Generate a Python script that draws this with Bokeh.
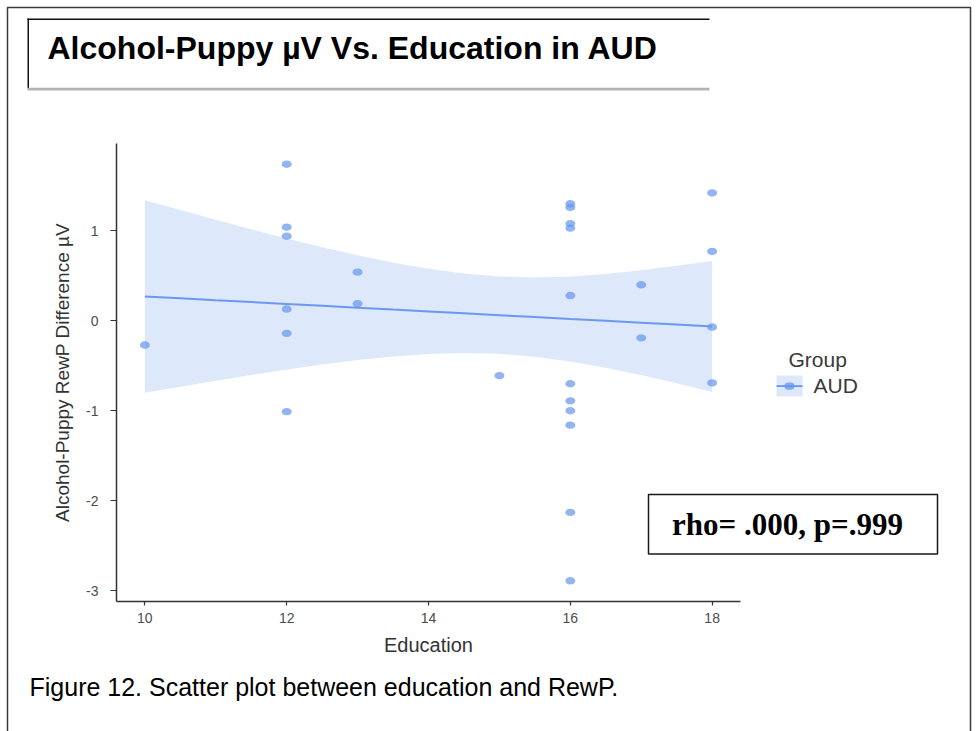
from bokeh.plotting import figure
from bokeh.models import Range1d, FixedTicker, Label, BoxAnnotation, ColumnDataSource
from bokeh.embed import file_html
from bokeh.resources import INLINE

# --- data -------------------------------------------------------------
education = [10,
             12, 12, 12, 12, 12, 12,
             13, 13,
             15,
             16, 16, 16, 16, 16, 16, 16, 16, 16, 16, 16,
             17, 17,
             18, 18, 18, 18]
rewp_diff = [-0.27,
             1.74, 1.04, 0.94, 0.13, -0.14, -1.01,
             0.54, 0.19,
             -0.61,
             1.30, 1.26, 1.08, 1.03, 0.28, -0.70, -0.89, -1.00, -1.16, -2.13, -2.89,
             0.40, -0.19,
             1.42, 0.77, -0.07, -0.69]

# linear fit with its 95% confidence band
fit_x = [10, 10.5, 11, 11.5, 12, 12.5, 13, 13.5, 14, 14.5, 15, 15.5, 16, 16.5, 17, 17.5, 18]
fit_y = [0.270, 0.249, 0.228, 0.208, 0.187, 0.166, 0.145, 0.124, 0.104, 0.083, 0.062,
         0.041, 0.020, 0.000, -0.021, -0.042, -0.063]
ci_hi = [1.340, 1.230, 1.122, 1.018, 0.915, 0.818, 0.727, 0.645, 0.577, 0.524, 0.492,
         0.482, 0.493, 0.521, 0.561, 0.610, 0.665]
ci_lo = [-0.800, -0.732, -0.666, -0.602, -0.541, -0.486, -0.437, -0.397, -0.369, -0.358,
         -0.368, -0.400, -0.453, -0.521, -0.603, -0.694, -0.791]

x_ticks = [10, 12, 14, 16, 18]
y_ticks = [-3, -2, -1, 0, 1]
y_tick_text = {-3: "-3", -2: "-2", -1: "-1", 0: "0", 1: "1"}
x_limits = (9.6, 18.4)
y_limits = (-3.12, 1.97)

title_text = "Alcohol-Puppy µV Vs. Education in AUD"
caption_text = "Figure 12. Scatter plot between education and RewP."
stats_text = "rho= .000, p=.999"
group_title = "Group"
group_name = "AUD"

# --- layout -----------------------------------------------------------
W, H = 980, 731
# pixel box of the scatter panel on the page (left, right, top, bottom)
PANEL = (116, 740, 143, 601)

BLUE = "#6495ED"
BAND_ALPHA = 0.22
SANS = "Liberation Sans"
SERIF = "Liberation Serif"

# the frame spans the whole page; the ranges are widened so that the
# axis limits land on the panel box, and the axes sit at fixed locations
kx = (x_limits[1] - x_limits[0]) / (PANEL[1] - PANEL[0])
ky = (y_limits[1] - y_limits[0]) / (PANEL[3] - PANEL[2])
x_range = Range1d(x_limits[0] - PANEL[0] * kx, x_limits[1] + (W - PANEL[1]) * kx)
y_range = Range1d(y_limits[0] - (H - PANEL[3]) * ky, y_limits[1] + PANEL[2] * ky)

p = figure(width=W, height=H, output_backend="svg", toolbar_location=None,
           x_range=x_range, y_range=y_range, min_border=0)
p.background_fill_color = "white"
p.border_fill_color = "white"
p.outline_line_color = None
p.xgrid.visible = False
p.ygrid.visible = False

pts = ColumnDataSource(dict(x=education, y=rewp_diff))
fit = ColumnDataSource(dict(x=fit_x, y=fit_y, lo=ci_lo, hi=ci_hi))

p.varea(x="x", y1="lo", y2="hi", source=fit, fill_color=BLUE, fill_alpha=BAND_ALPHA)
p.line(x="x", y="y", source=fit, line_color=BLUE, line_width=2, line_alpha=0.95)
p.ellipse(x="x", y="y", width=10, height=7.4, width_units="screen", height_units="screen",
          source=pts, fill_color=BLUE, fill_alpha=0.7, line_color=None)

for ax in (p.xaxis[0], p.yaxis[0]):
    ax.axis_line_color = "#333333"
    ax.axis_line_width = 1.5
    ax.major_tick_line_color = "#333333"
    ax.major_tick_line_width = 1.2
    ax.major_tick_in = 0
    ax.minor_tick_line_color = None
    ax.major_label_text_font = SANS
    ax.major_label_text_font_size = "14px"
    ax.major_label_text_color = "#4d4d4d"
    ax.axis_label_text_font = SANS
    ax.axis_label_text_font_style = "normal"
    ax.axis_label_text_color = "#333333"

p.xaxis.fixed_location = y_limits[0]
p.xaxis.bounds = x_limits
p.xaxis.ticker = FixedTicker(ticks=x_ticks)
p.xaxis.major_tick_out = 4
p.xaxis.major_label_standoff = 7
p.xaxis.axis_label = "Education"
p.xaxis.axis_label_text_font_size = "20px"
p.xaxis.axis_label_standoff = 8

p.yaxis.fixed_location = x_limits[0]
p.yaxis.bounds = y_limits
p.yaxis.ticker = FixedTicker(ticks=y_ticks)
p.yaxis.major_label_overrides = y_tick_text
p.yaxis.major_tick_out = 6
p.yaxis.major_label_standoff = 12
p.yaxis.axis_label = "Alcohol-Puppy RewP Difference µV"
p.yaxis.axis_label_text_font_size = "19px"
p.yaxis.axis_label_standoff = 10


# page furniture: frame, title box, caption, legend and statistics box
def box(l, r, t, b, **kw):
    return BoxAnnotation(left=l, right=r, top=t, bottom=b,
                         left_units="canvas", right_units="canvas",
                         top_units="canvas", bottom_units="canvas", **kw)


def bar(l, r, t, b, color):
    return box(l, r, t, b, fill_color=color, fill_alpha=1, line_color=None)


def text(x, y, s, font=SANS, size="19px", style="normal", color="black", align="left"):
    # y is the vertical middle of the text line
    return Label(x=x, y=y, x_units="canvas", y_units="canvas", text=s,
                 text_font=font, text_font_size=size, text_font_style=style,
                 text_color=color, text_baseline="middle", text_align=align)


p.add_layout(box(7, 970, 7, 745, fill_alpha=0,
                 line_color="#3a3a3a", line_alpha=1, line_width=1.5))

p.add_layout(bar(27, 709, 18, 19.4, "#111111"))
p.add_layout(bar(27, 28.5, 18, 88, "#111111"))
p.add_layout(bar(27, 709, 87.2, 90, "#b4b4b4"))
p.add_layout(text(47, 47, title_text, size="32px", style="bold"))

p.add_layout(text(29, 686, caption_text, size="25px"))

p.add_layout(box(648, 937, 494, 553.5, fill_color="white", fill_alpha=1,
                 line_color="#1a1a1a", line_alpha=1, line_width=1.5))
p.add_layout(text(787, 524, stats_text, font=SERIF, size="31px", style="bold",
                  align="center"))

p.add_layout(text(788, 359, group_title, size="21px", color="#3a3a3a"))
p.add_layout(box(776, 802, 375, 396, fill_color=BLUE, fill_alpha=BAND_ALPHA,
                 line_color=None))
p.add_layout(bar(776, 802, 384.7, 386.5, BLUE))
p.add_layout(box(784, 794, 382, 389.2, fill_color=BLUE, fill_alpha=0.75,
                 line_color=None, border_radius=4))
p.add_layout(text(813, 385, group_name, size="21px", color="#3a3a3a"))

open("out.html", "w").write(file_html(p, INLINE))
